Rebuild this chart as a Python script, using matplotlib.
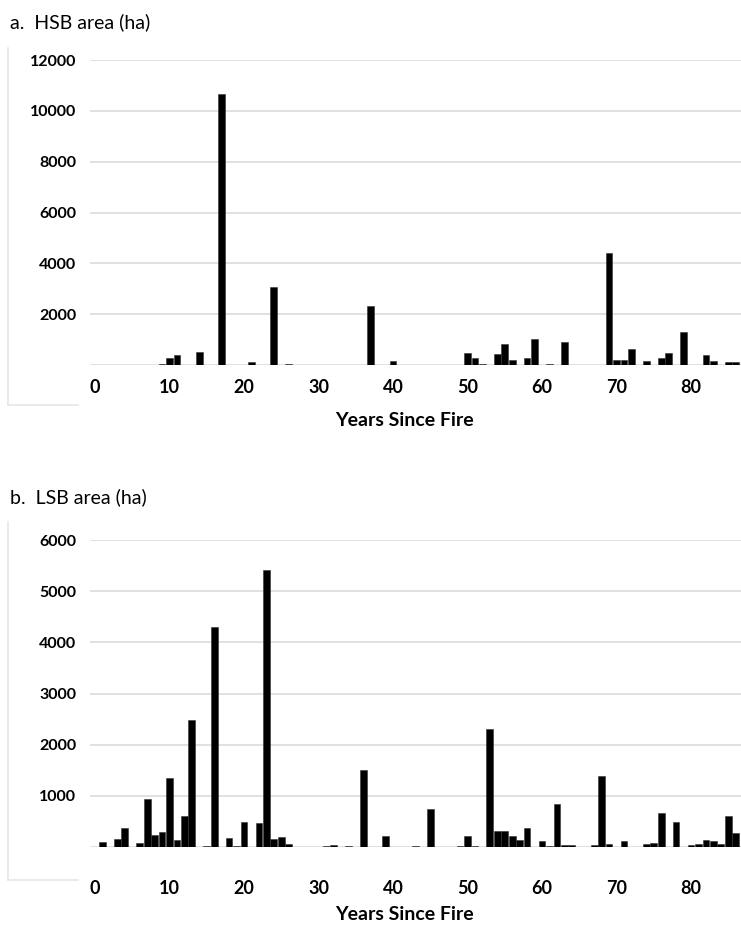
import matplotlib
matplotlib.use("Agg")
import matplotlib.pyplot as plt
from matplotlib.lines import Line2D

# years since fire and burned area (ha)
hsb_years = [9, 10, 11, 14, 17, 21, 24, 26, 37, 40, 50, 51, 52, 54, 55, 56,
             58, 59, 61, 63, 69, 70, 71, 72, 74, 76, 77, 79, 82, 83, 85, 86]
hsb_area = [40, 263, 380, 513, 10650, 120, 3060, 40, 2330, 170, 460, 263, 50, 420, 842, 210,
            263, 1040, 30, 920, 4420, 210, 210, 618, 170, 263, 460, 1300, 408, 170, 118, 105]

lsb_years = [1, 3, 4, 6, 7, 8, 9, 10, 11, 12, 13, 15, 16, 18, 19, 20, 22, 23, 24, 25, 26,
             31, 32, 34, 36, 39, 43, 45, 49, 50, 51, 53, 54, 55, 56, 57, 58, 60, 61, 62, 63, 64,
             67, 68, 69, 71, 72, 74, 75, 76, 78, 80, 81, 82, 83, 84, 85, 86]
lsb_area = [92, 157, 373, 85, 929, 242, 301, 1354, 137, 602, 2485, 13, 4290, 177, 26, 490,
            477, 5420, 163, 196, 52, 26, 40, 20, 1510, 216, 26, 745, 20, 222, 13, 2315, 314,
            314, 209, 137, 373, 111, 13, 837, 33, 46, 40, 1393, 52, 111, 7, 65, 72, 674, 497,
            33, 59, 131, 118, 52, 602, 275]

x_ticks = list(range(0, 81, 10))
hsb_yticks = [2000, 4000, 6000, 8000, 10000, 12000]
lsb_yticks = [1000, 2000, 3000, 4000, 5000, 6000]

W, H = 741, 931
plt.rcParams["font.family"] = ["Lato", "DejaVu Sans"]

fig = plt.figure(figsize=(W / 100, H / 100), dpi=100)


def box(left, right, top, bottom):
    return [left / W, 1 - bottom / H, (right - left) / W, (bottom - top) / H]


def panel(rect, years, area, yticks, ymax, xpad):
    ax = fig.add_axes(rect)
    ax.bar(years, area, width=0.9, color="black", edgecolor="#333333", linewidth=0.4, zorder=3)
    ax.set_xlim(-5 / 7.45, 646 / 7.45)
    ax.set_ylim(0, ymax)
    ax.set_yticks([0] + yticks)
    ax.set_yticklabels([""] + [str(v) for v in yticks], fontweight="bold", fontsize=11.5)
    ax.set_xticks(x_ticks)
    ax.set_xticklabels([str(v) for v in x_ticks], fontweight="bold", fontsize=13)
    ax.tick_params(axis="both", length=0)
    ax.tick_params(axis="y", pad=10)
    ax.tick_params(axis="x", pad=xpad)
    ax.grid(axis="y", color="#dcdcdc", linewidth=1.2, zorder=0)
    for s in ax.spines.values():
        s.set_visible(False)
    return ax


ax1 = panel(box(90, 741, 60, 365), hsb_years, hsb_area, hsb_yticks, 12000, 10)
ax2 = panel(box(90, 741, 540, 847), lsb_years, lsb_area, lsb_yticks, 6000, 24)

fig.text(10 / W, 1 - 22 / H, "a.  HSB area (ha)", fontsize=14, va="center", ha="left")
fig.text(10 / W, 1 - 497 / H, "b.  LSB area (ha)", fontsize=14, va="center", ha="left")
fig.text(404 / W, 1 - 420 / H, "Years Since Fire", fontsize=14, fontweight="bold",
         va="center", ha="center")
fig.text(404 / W, 1 - 914 / H, "Years Since Fire", fontsize=14, fontweight="bold",
         va="center", ha="center")

# faint frame leftovers on the left
for y0, y1 in [(48, 405), (522, 880)]:
    fig.add_artist(Line2D([8 / W, 8 / W], [1 - y0 / H, 1 - y1 / H], color="#e6e6e6", lw=1.2))
    fig.add_artist(Line2D([8 / W, 78 / W], [1 - y1 / H, 1 - y1 / H], color="#e6e6e6", lw=1.2))

fig.savefig("out.png", dpi=100)
